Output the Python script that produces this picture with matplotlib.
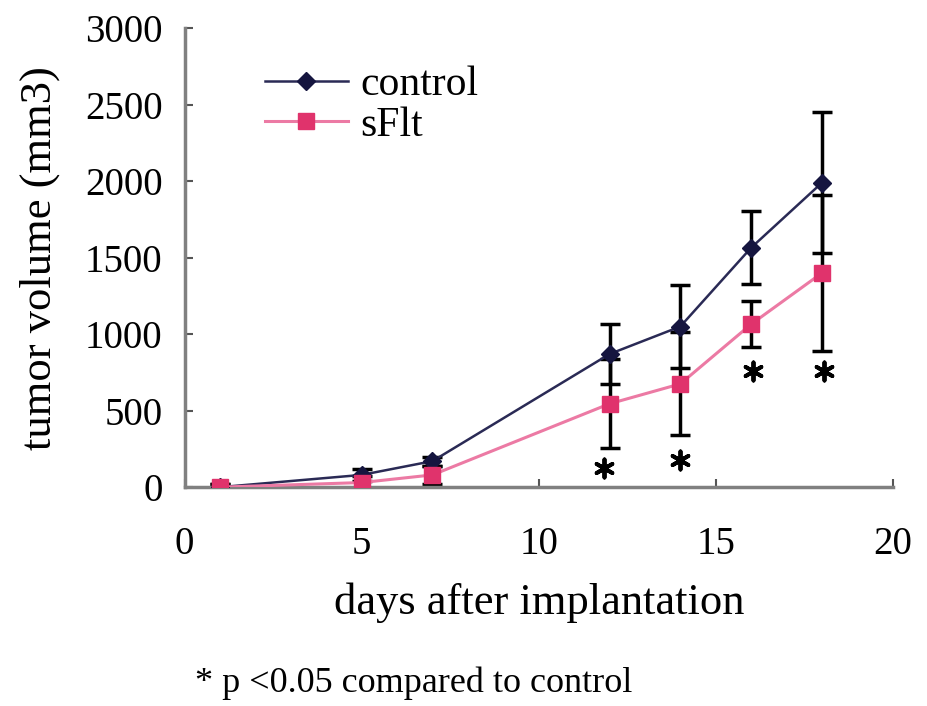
import matplotlib.pyplot as plt
import numpy as np

days = [1, 5, 7, 12, 14, 16, 18]
control = [0, 80, 170, 870, 1050, 1565, 1990]
control_err = [20, 40, 30, 195, 270, 240, 460]
sflt = [0, 30, 80, 545, 675, 1065, 1400]
sflt_err = [20, 40, 60, 290, 337, 150, 510]
star_x = [11.85, 14, 16.05, 18.05]
star_y = [123, 175, 760, 760]

plt.rcParams['font.family'] = ['Liberation Serif', 'DejaVu Serif']

fig = plt.figure(figsize=(9.28, 7.06), dpi=100)
ax = fig.add_axes([0.199, 0.310, 0.763, 0.650])

ax.errorbar(days, control, yerr=control_err, fmt='none', ecolor='black',
            elinewidth=2.5, capsize=7, capthick=2.5, zorder=2)
ax.errorbar(days, sflt, yerr=sflt_err, fmt='none', ecolor='black',
            elinewidth=2.5, capsize=7, capthick=2.5, zorder=2)
ax.plot(days, control, color='#2a2a55', marker='D', markersize=9,
        markerfacecolor='#15153f', markeredgecolor='#15153f', lw=1.8,
        label='control', zorder=3)
ax.plot(days, sflt, color='#ec7aa4', marker='s', markersize=11,
        markerfacecolor='#e0336c', markeredgecolor='#e0336c', lw=2.2,
        label='sFlt', zorder=3)

ax.scatter(star_x, star_y, marker=(6, 2, 0), s=170, color='black',
           linewidths=2.8, zorder=4)

ax.set_xlim(0, 20)
ax.set_ylim(0, 3000)
ax.set_xticks([0, 5, 10, 15, 20])
ax.set_yticks([0, 500, 1000, 1500, 2000, 2500, 3000])
ax.spines['top'].set_visible(False)
ax.spines['right'].set_visible(False)
for s in ['left', 'bottom']:
    ax.spines[s].set_color('#808080')
    ax.spines[s].set_linewidth(2.5)
ax.tick_params(direction='in', length=6, width=1.5, color='#555555',
               labelsize=28)
ax.tick_params(axis='x', pad=28)
ax.tick_params(axis='y', pad=16)
ax.set_xlabel('days after implantation', fontsize=32, labelpad=14)
ax.set_ylabel('tumor volume (mm3)', fontsize=32, labelpad=18)

ax.legend(loc='upper left', bbox_to_anchor=(0.06, 1.0), frameon=False,
          fontsize=30, handlelength=2.0, handletextpad=0.3,
          labelspacing=0.05)

fig.text(0.21, 0.02, '* p <0.05 compared to control', fontsize=26)

fig.savefig('out.png', dpi=100, facecolor='white')
